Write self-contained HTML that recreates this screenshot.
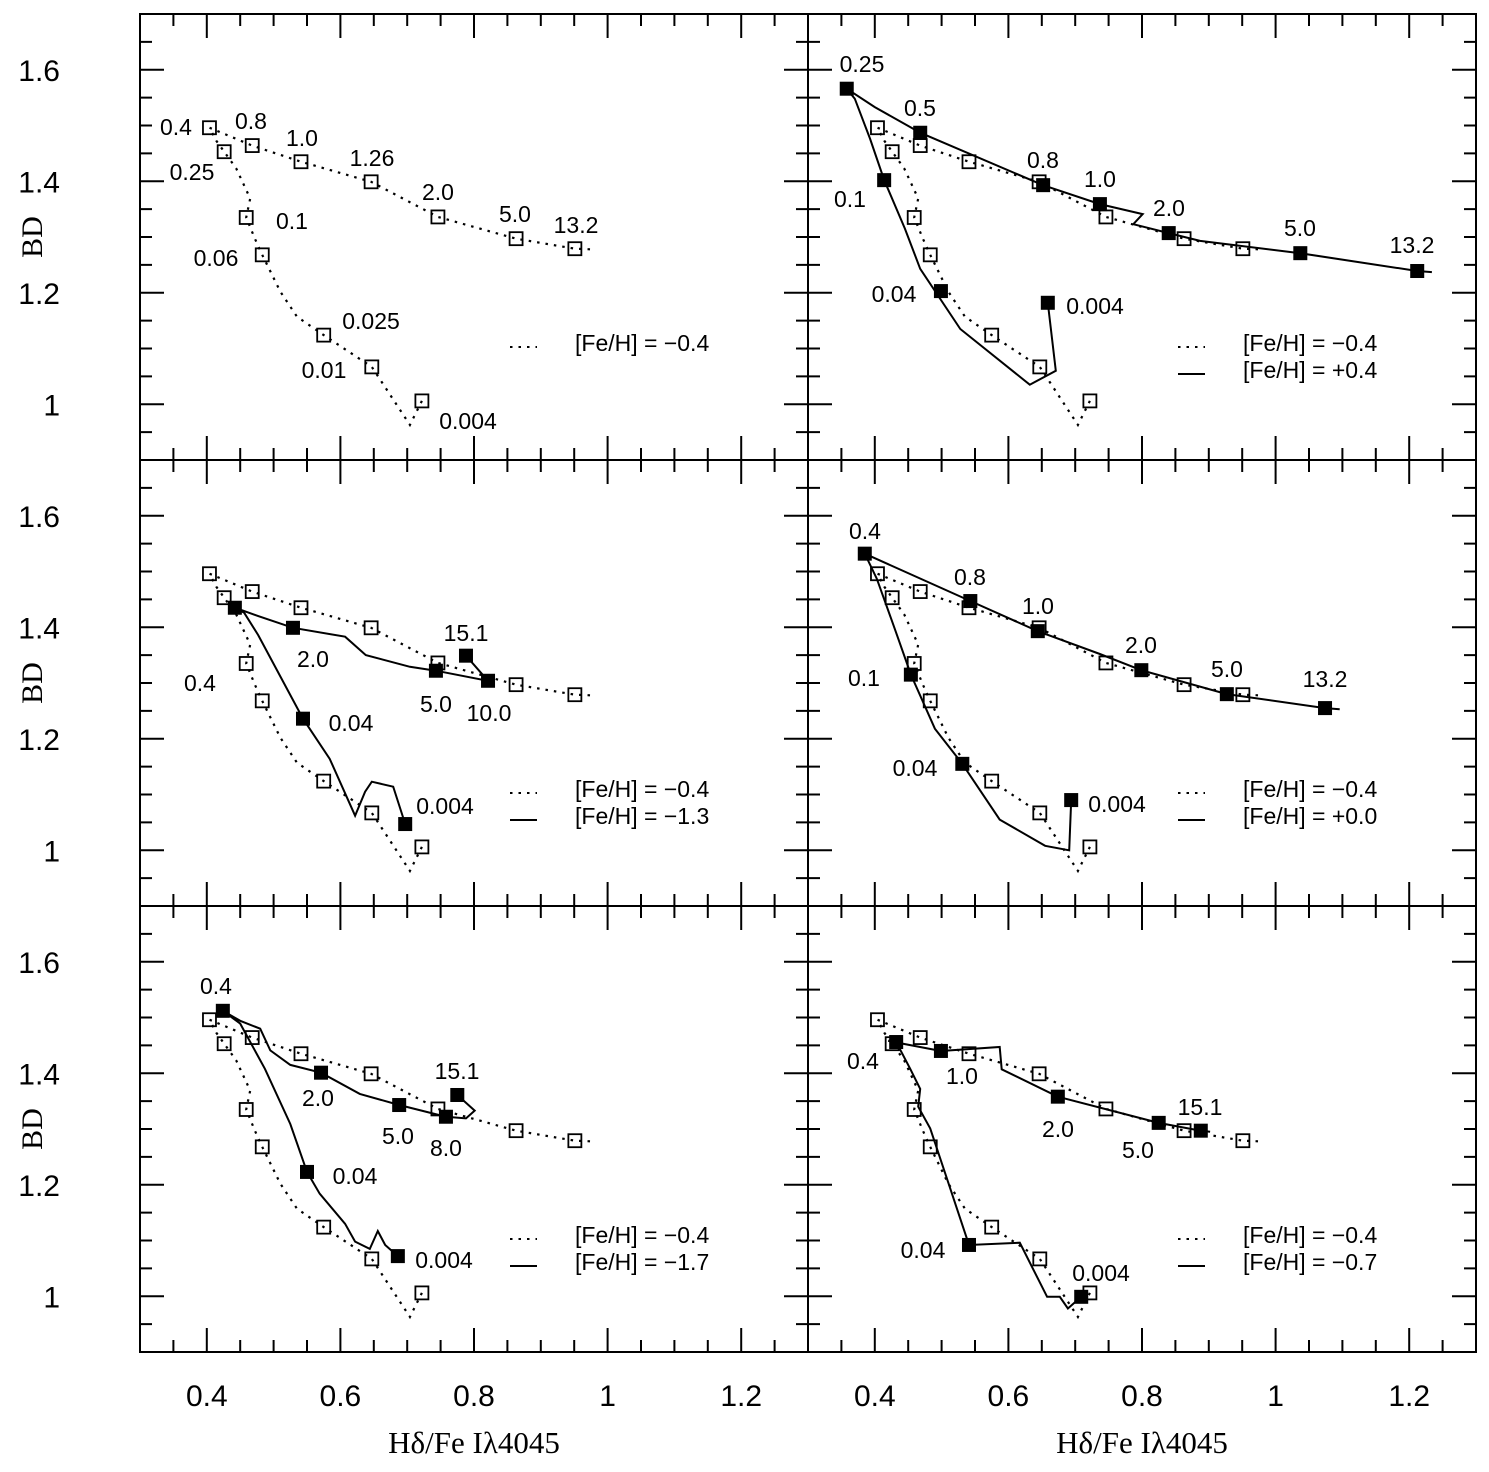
<!DOCTYPE html>
<html><head><meta charset="utf-8"><style>
html,body{margin:0;padding:0;background:#fff}
svg{display:block}
text{font-family:"Liberation Sans",sans-serif;fill:#000}
text.serif{font-family:"Liberation Serif",serif}
</style></head><body>
<svg id="chart" width="1489" height="1472" viewBox="0 0 1489 1472" xmlns="http://www.w3.org/2000/svg"></svg>
<script>
// Reference [Fe/H] = -0.4 model (same in all panels)
const refLineX = [0.722,0.704,0.647,0.575,0.535,0.510,0.483,0.472,0.459,0.465,0.444,0.426,0.414,0.404,0.468,0.541,0.646,0.746,0.863,0.951,0.974];
const refLineY = [1.006,0.963,1.067,1.124,1.157,1.202,1.268,1.297,1.335,1.369,1.423,1.453,1.473,1.496,1.464,1.435,1.399,1.336,1.297,1.279,1.278];
const refSqX = [0.404,0.426,0.468,0.541,0.646,0.459,0.483,0.746,0.863,0.575,0.951,0.647,0.722];
const refSqY = [1.496,1.453,1.464,1.435,1.399,1.335,1.268,1.336,1.297,1.124,1.279,1.067,1.006];
const refLabels = ["0.4","0.25","0.8","1.0","1.26","0.1","0.06","2.0","5.0","0.025","13.2","0.01","0.004"];

// Panel 2 (top right): [Fe/H] = +0.4
const p2LineX = [0.659,0.671,0.632,0.528,0.468,0.445,0.414,0.393,0.370,0.358,0.400,0.468,0.652,0.737,0.801,0.787,0.840,0.887,1.037,1.212,1.234];
const p2LineY = [1.182,1.060,1.035,1.135,1.243,1.315,1.402,1.476,1.548,1.566,1.533,1.487,1.393,1.359,1.341,1.323,1.307,1.293,1.271,1.239,1.237];
const p2SqX = [0.358,0.468,0.652,0.737,0.840,1.037,1.212,0.414,0.499,0.659];
const p2SqY = [1.566,1.487,1.393,1.359,1.307,1.271,1.239,1.402,1.203,1.182];
// Panel 3 (middle left): [Fe/H] = -1.3
const p3LineX = [0.697,0.679,0.647,0.637,0.622,0.584,0.544,0.477,0.456,0.442,0.477,0.529,0.607,0.638,0.704,0.743,0.821,0.788];
const p3LineY = [1.047,1.114,1.123,1.105,1.062,1.164,1.236,1.386,1.426,1.435,1.420,1.399,1.383,1.350,1.329,1.322,1.304,1.349];
const p3SqX = [0.442,0.529,0.544,0.743,0.788,0.821,0.697];
const p3SqY = [1.435,1.399,1.236,1.322,1.349,1.304,1.047];
// Panel 4 (middle right): [Fe/H] = +0.0
const p4LineX = [0.694,0.691,0.655,0.587,0.531,0.490,0.454,0.430,0.403,0.385,0.543,0.644,0.737,0.799,0.927,1.074,1.096];
const p4LineY = [1.090,1.000,1.008,1.055,1.155,1.218,1.315,1.397,1.487,1.532,1.447,1.393,1.352,1.323,1.280,1.255,1.253];
const p4SqX = [0.385,0.543,0.644,0.454,0.531,0.694,0.799,0.927,1.074];
const p4SqY = [1.532,1.447,1.393,1.315,1.155,1.090,1.323,1.280,1.255];
// Panel 5 (bottom left): [Fe/H] = -1.7
const p5LineX = [0.686,0.667,0.656,0.644,0.622,0.607,0.569,0.550,0.525,0.487,0.450,0.424,0.450,0.480,0.495,0.525,0.571,0.629,0.688,0.758,0.788,0.801,0.775];
const p5LineY = [1.072,1.092,1.117,1.085,1.098,1.130,1.184,1.223,1.309,1.408,1.489,1.512,1.494,1.480,1.441,1.415,1.401,1.363,1.343,1.322,1.319,1.333,1.361];
const p5SqX = [0.424,0.571,0.550,0.688,0.758,0.775,0.686];
const p5SqY = [1.512,1.401,1.223,1.343,1.322,1.361,1.072];
// Panel 6 (bottom right): [Fe/H] = -0.7
const p6LineX = [0.709,0.689,0.677,0.658,0.617,0.541,0.513,0.483,0.465,0.468,0.453,0.432,0.420,0.499,0.587,0.590,0.674,0.825,0.888,0.902];
const p6LineY = [0.999,0.978,0.999,0.999,1.096,1.092,1.193,1.301,1.340,1.372,1.408,1.456,1.458,1.440,1.447,1.407,1.358,1.311,1.297,1.295];
const p6SqX = [0.432,0.499,0.674,0.825,0.888,0.541,0.709];
const p6SqY = [1.456,1.440,1.358,1.311,1.297,1.092,0.999];

const xTicks = [0.4,0.6,0.8,1.0,1.2];
const xTickLabels = ["0.4","0.6","0.8","1","1.2"];
const yTicks = [1.0,1.2,1.4,1.6];
const yTickLabels = ["1","1.2","1.4","1.6"];
const legendTexts = ["", "[Fe/H] = +0.4", "[Fe/H] = \u22121.3", "[Fe/H] = +0.0", "[Fe/H] = \u22121.7", "[Fe/H] = \u22120.7"];

const svg = document.getElementById('chart');
const NS = 'http://www.w3.org/2000/svg';
const X0=0.3, X1=1.3, Y0=0.9, Y1=1.7;
const PW=668, PH=446;
const colL=[140,808], rowT=[14,460,906];
function mk(tag, attrs, parent){const e=document.createElementNS(NS,tag);for(const k in attrs)e.setAttribute(k,attrs[k]);(parent||svg).appendChild(e);return e;}
function sx(p,v){return colL[p%2]+(v-X0)/(X1-X0)*PW;}
function sy(p,v){return rowT[Math.floor(p/2)]+(Y1-v)/(Y1-Y0)*PH;}

const panels=[
 {lx:null},
 {lx:p2LineX,ly:p2LineY,sxs:p2SqX,sys:p2SqY},
 {lx:p3LineX,ly:p3LineY,sxs:p3SqX,sys:p3SqY},
 {lx:p4LineX,ly:p4LineY,sxs:p4SqX,sys:p4SqY},
 {lx:p5LineX,ly:p5LineY,sxs:p5SqX,sys:p5SqY},
 {lx:p6LineX,ly:p6LineY,sxs:p6SqX,sys:p6SqY}
];
const panelLabels=[
 [["0.4",176,134],["0.8",251,128],["1.0",302,145],["1.26",372,165],["2.0",438,199],["5.0",515,221],["13.2",576,232],["0.25",192,179],["0.1",292,228],["0.06",216,265],["0.025",371,328],["0.01",324,377],["0.004",468,428]],
 [["0.25",862,71],["0.5",920,115],["0.8",1043,167],["1.0",1100,186],["2.0",1169,215],["5.0",1300,235],["13.2",1412,252],["0.1",850,206],["0.04",894,301],["0.004",1095,313]],
 [["0.4",200,690],["2.0",313,666],["0.04",351,730],["15.1",466,640],["5.0",436,711],["10.0",489,720],["0.004",445,813]],
 [["0.4",865,538],["0.8",970,584],["1.0",1038,613],["2.0",1141,652],["5.0",1227,676],["13.2",1325,686],["0.1",864,685],["0.04",915,775],["0.004",1117,811]],
 [["0.4",216,993],["2.0",318,1105],["5.0",398,1143],["8.0",446,1155],["15.1",457,1078],["0.04",355,1183],["0.004",444,1267]],
 [["0.4",863,1068],["1.0",962,1083],["2.0",1058,1136],["5.0",1138,1157],["15.1",1200,1114],["0.04",923,1257],["0.004",1101,1280]]
];

for(let p=0;p<6;p++){
  const g=mk('g',{});
  
  
  const L=colL[p%2], T=rowT[Math.floor(p/2)];
  const fr=mk('rect',{x:L,y:T,width:PW,height:PH,fill:'none',stroke:'#000','stroke-width':2},g);
  
  
  for(let i=0;i<=20;i++){
    const v=X0+i*0.05; const X=sx(p,v);
    const major=Math.abs(v*10-Math.round(v*10))<1e-6 && Math.round(v*10)%2===0;
    const len=major?24:12;
    mk('line',{x1:X,y1:T,x2:X,y2:T+len,stroke:'#000','stroke-width':2},g);
    mk('line',{x1:X,y1:T+PH,x2:X,y2:T+PH-len,stroke:'#000','stroke-width':2},g);
  }
  for(let i=0;i<=16;i++){
    const v=Y0+i*0.05; const Y=sy(p,v);
    const major=Math.abs(v*10-Math.round(v*10))<1e-6 && Math.round(v*10)%2===0;
    const len=major?24:12;
    mk('line',{x1:L,y1:Y,x2:L+len,y2:Y,stroke:'#000','stroke-width':2},g);
    mk('line',{x1:L+PW,y1:Y,x2:L+PW-len,y2:Y,stroke:'#000','stroke-width':2},g);
  }
  let d=refLineX.map((x,i)=>(i?'L':'M')+sx(p,x).toFixed(1)+' '+sy(p,refLineY[i]).toFixed(1)).join(' ');
  const rl=mk('path',{d:d,fill:'none',stroke:'#000','stroke-width':2.2,'stroke-dasharray':'2.5 6'},g);
  
  
  refSqX.forEach((x,i)=>{
    const r=mk('rect',{x:sx(p,x)-6.5,y:sy(p,refSqY[i])-6.5,width:13,height:13,fill:'none',stroke:'#000','stroke-width':1.8},g);
    
    
  });
  const P=panels[p];
  if(P.lx){
    d=P.lx.map((x,i)=>(i?'L':'M')+sx(p,x).toFixed(1)+' '+sy(p,P.ly[i]).toFixed(1)).join(' ');
    const sl=mk('path',{d:d,fill:'none',stroke:'#000','stroke-width':2},g);
    
    
    P.sxs.forEach((x,i)=>{
      const r=mk('rect',{x:sx(p,x)-7,y:sy(p,P.sys[i])-7,width:14,height:14,fill:'#000'},g);
      
      
    });
  }
  panelLabels[p].forEach(a=>{
    const t=mk('text',{x:a[1],y:a[2]+1,'text-anchor':'middle','font-size':23},g);
    t.textContent=a[0];
    
    
  });
  const lx=L+370, ly=T+333;
  const ld=mk('line',{x1:lx,y1:ly,x2:lx+27,y2:ly,stroke:'#000','stroke-width':2,'stroke-dasharray':'2.5 6'},g);
  
  
  const lt=mk('text',{x:L+435,y:ly+4,'font-size':23,'xml:space':'preserve'},g);
  lt.textContent='[Fe/H]  =  \u22120.4';
  
  
  if(legendTexts[p]){
    const ls=mk('line',{x1:lx,y1:ly+27,x2:lx+27,y2:ly+27,stroke:'#000','stroke-width':2},g);
    
    
    const lt2=mk('text',{x:L+435,y:ly+31,'font-size':23,'xml:space':'preserve'},g);
    lt2.textContent=legendTexts[p].replace(' = ','  =  ');
    
    
  }
  if(p%2===0){
    yTicks.forEach((v,i)=>{
      const t=mk('text',{x:60,y:sy(p,v)+11,'text-anchor':'end','font-size':30},g);
      t.textContent=yTickLabels[i];
      
      
    });
    const yl=mk('text',{x:0,y:0,'class':'serif','text-anchor':'middle','font-size':30,transform:'translate(42,'+(T+PH/2)+') rotate(-90)'},g);
    yl.textContent='BD';
    
    
  }
  if(p>=4){
    xTicks.forEach((v,i)=>{
      const t=mk('text',{x:sx(p,v),y:1406,'text-anchor':'middle','font-size':30},g);
      t.textContent=xTickLabels[i];
      
      
    });
    const xl=mk('text',{x:L+PW/2,y:1453,'class':'serif','text-anchor':'middle','font-size':31},g);
    xl.textContent='H\u03B4/Fe I\u03BB4045';
    
    
  }
}
</script>
</body></html>
